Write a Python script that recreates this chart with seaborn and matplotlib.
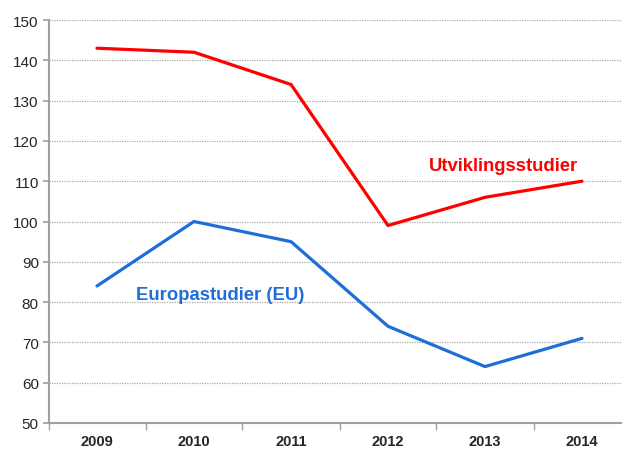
import matplotlib
matplotlib.use("Agg")
import matplotlib.pyplot as plt
import seaborn as sns
import pandas as pd

years = ["2009", "2010", "2011", "2012", "2013", "2014"]
utvikling = [143, 142, 134, 99, 106, 110]
europa = [84, 100, 95, 74, 64, 71]
yticks = [50, 60, 70, 80, 90, 100, 110, 120, 130, 140, 150]

sns.set_theme(style="white")
plt.rcParams["font.family"] = ["Liberation Sans", "DejaVu Sans"]

df = pd.DataFrame({"year": years * 2,
                   "value": utvikling + europa,
                   "series": ["Utviklingsstudier"] * 6 + ["Europastudier (EU)"] * 6})
df["x"] = list(range(6)) * 2

red = "#ff0000"
blue = "#1f6ed8"

fig = plt.figure(figsize=(6.22, 4.52), dpi=100)
left = 48.5
ax = fig.add_axes([left / 622, 1 - 424 / 452, (622 - left) / 622, (424 - 21) / 452])

sns.lineplot(data=df, x="x", y="value", hue="series",
             palette={"Utviklingsstudier": red, "Europastudier (EU)": blue},
             linewidth=2.3, ax=ax, legend=False)

ax.set_yticks(yticks)
ax.set_yticklabels([str(v) for v in yticks], fontsize=11)
ax.set_xticks(range(6))
ax.set_xticklabels(years, fontsize=10.5, fontweight="bold")
ax.tick_params(axis="x", length=0, pad=8)
ax.tick_params(axis="y", length=4, color="#a0a0a0", left=True, pad=3)
ax.set_xticks([i - 0.5 for i in range(7)], minor=True)
ax.tick_params(axis="x", which="minor", length=5, color="#a0a0a0", bottom=True)
ax.set_xlabel("")
ax.set_ylabel("")
ax.set_xlim(-0.5, -0.5 + (622 - left) / 97)
ax.set_ylim(50, 150)

for y in yticks[1:]:
    ax.axhline(y, color="#a8a8a8", linestyle=(0, (1, 1)), linewidth=0.9, zorder=0)

for s in ["top", "right"]:
    ax.spines[s].set_visible(False)
for s in ["left", "bottom"]:
    ax.spines[s].set_color("#a0a0a0")
    ax.spines[s].set_linewidth(1.5)

ax.text(4.19, 113.8, "Utviklingsstudier", color=red, fontsize=13.3,
        fontweight="bold", ha="center", va="center")
ax.text(1.27, 81.8, "Europastudier (EU)", color=blue, fontsize=13.3,
        fontweight="bold", ha="center", va="center")

fig.savefig("out.png", dpi=100)
